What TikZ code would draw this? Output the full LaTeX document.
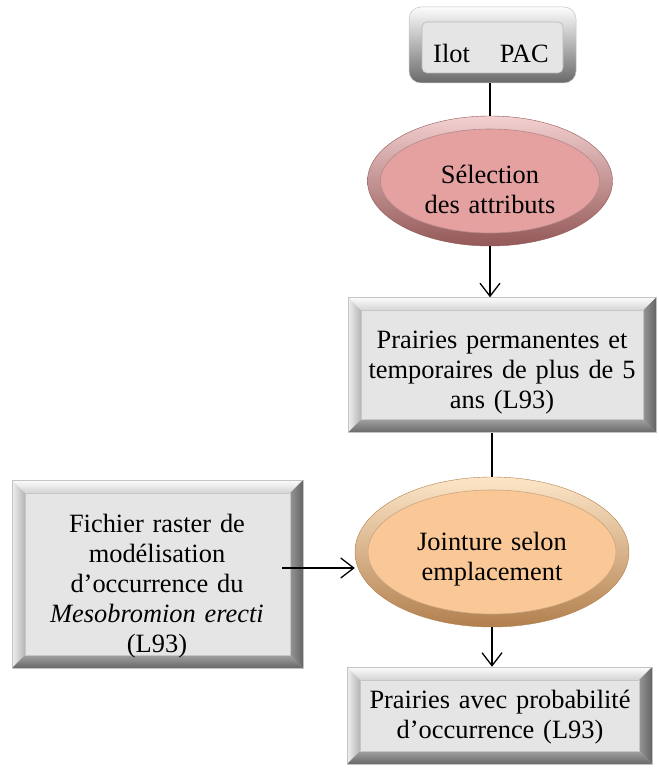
\documentclass[tikz,border=0pt]{standalone}
\usepackage{fontspec}
\setmainfont{Liberation Serif}
\usetikzlibrary{arrows.meta,calc,shapes.geometric}

% face and bevel colours of the grey boxes
\definecolor{boxface}{RGB}{229,229,229}
\definecolor{boxedge}{RGB}{196,196,196}
\definecolor{bevtopout}{RGB}{252,252,252}
\definecolor{bevtopin}{RGB}{212,212,212}
\definecolor{bevleftout}{RGB}{240,240,240}
\definecolor{bevleftin}{RGB}{180,180,180}
\definecolor{bevrightin}{RGB}{150,150,150}
\definecolor{bevrightout}{RGB}{100,100,100}
\definecolor{bevbotin}{RGB}{160,160,160}
\definecolor{bevbotout}{RGB}{105,105,105}
% oval colours
\definecolor{pinkface}{RGB}{229,160,160}
\definecolor{pinklight}{RGB}{243,208,208}
\definecolor{pinkdark}{RGB}{148,88,88}
\definecolor{peachface}{RGB}{250,200,150}
\definecolor{peachlight}{RGB}{253,230,200}
\definecolor{peachdark}{RGB}{178,128,78}

\newcommand\diagfont{\fontsize{26.4}{30}\selectfont}
\def\bevw{13pt}

\begin{document}
\begin{tikzpicture}[x=1pt, y=-1pt,
  % rectangular box with a bevelled frame
  bevelbox/.style={rectangle, draw=boxedge, line width=0.5pt, fill=boxface, inner sep=0pt,
    path picture={
      \path (path picture bounding box.north west) coordinate (bb-nw)
            (path picture bounding box.north east) coordinate (bb-ne)
            (path picture bounding box.south west) coordinate (bb-sw)
            (path picture bounding box.south east) coordinate (bb-se);
      \shade[top color=bevtopout, bottom color=bevtopin]
        (bb-nw) -- (bb-ne) -- ([shift={(-\bevw,-\bevw)}]bb-ne) -- ([shift={(\bevw,-\bevw)}]bb-nw) -- cycle;
      \shade[left color=bevleftout, right color=bevleftin]
        (bb-nw) -- ([shift={(\bevw,-\bevw)}]bb-nw) -- ([shift={(\bevw,\bevw)}]bb-sw) -- (bb-sw) -- cycle;
      \shade[left color=bevrightin, right color=bevrightout]
        (bb-ne) -- (bb-se) -- ([shift={(-\bevw,\bevw)}]bb-se) -- ([shift={(-\bevw,-\bevw)}]bb-ne) -- cycle;
      \shade[top color=bevbotin, bottom color=bevbotout]
        (bb-sw) -- ([shift={(\bevw,\bevw)}]bb-sw) -- ([shift={(-\bevw,\bevw)}]bb-se) -- (bb-se) -- cycle;
      \draw[gray!45, line width=0.5pt]
        ([shift={(\bevw,-\bevw)}]bb-nw) rectangle ([shift={(-\bevw,\bevw)}]bb-se);
    }},
  % rounded box with a soft frame
  roundbox/.style={rectangle, rounded corners=12pt, draw=boxedge, line width=0.5pt,
    top color=bevtopout, bottom color=bevbotout, middle color=bevleftin, inner sep=0pt,
    path picture={
      \fill[boxface, draw=gray!55, line width=0.6pt, rounded corners=5pt]
        ([shift={(13pt,-15pt)}]path picture bounding box.north west) rectangle
        ([shift={(-13pt,10pt)}]path picture bounding box.south east);
    }},
  % oval with a raised rim: face, light rim, dark rim
  oval/.style n args={3}{ellipse, inner sep=0pt, draw=#3, line width=0.4pt,
    top color=#2, bottom color=#3,
    path picture={
      \fill[#1, draw=#3!70, line width=0.6pt]
        let \p1=(path picture bounding box.north east),
            \p2=(path picture bounding box.center) in
        (\p2) ellipse [x radius={\x1-\x2-13pt}, y radius={\y1-\y2-13pt}];
    }},
  lbl/.style={align=center, inner sep=0pt, anchor=base, font=\diagfont, text width=300pt},
  conn/.style={line width=1.3pt, draw=black},
  arr/.style={conn, -{Straight Barb[length=13pt, width=20pt]}}
]
\path[use as bounding box, fill=white] (0,0) rectangle (658,778);

% shapes
\node[roundbox, minimum width=167pt, minimum height=76pt] (pac) at (492.5,45) {};
\node[oval={pinkface}{pinklight}{pinkdark}, minimum width=245pt, minimum height=130pt] (sel) at (490,181) {};
\node[bevelbox, minimum width=308pt, minimum height=135pt] (perm) at (502,365) {};
\node[oval={peachface}{peachlight}{peachdark}, minimum width=274pt, minimum height=150pt] (join) at (492,552) {};
\node[bevelbox, minimum width=291pt, minimum height=188pt] (rast) at (157.5,574) {};
\node[bevelbox, minimum width=305pt, minimum height=97pt] (res) at (499.5,715.5) {};

% texts
\node[lbl] (pac-t) at (491,63) {Ilot\hspace{30pt}PAC};
\node[lbl] (sel-t) at (490,183) {Sélection\\des attributs};
\node[lbl] (perm-t) at (502,348) {Prairies permanentes et\\temporaires de plus de 5\\ans (L93)};
\node[lbl] (join-t) at (492,550) {Jointure selon\\emplacement};
\node[lbl, text width=280pt] (rast-t) at (157,532) {Fichier raster de\\modélisation\\d’occurrence du\\\textit{Mesobromion erecti}\\(L93)};
\node[lbl] (res-t) at (500,708) {Prairies avec probabilité\\d’occurrence (L93)};

% connectors
\draw[conn] (sel.north |- pac.south) -- (sel.north);
\draw[arr] (sel.south) -- (sel.south |- perm.north);
\draw[conn] (perm.south -| join.north) -- (join.north);
\coordinate (rast-out) at ([shift={(-21pt,6pt)}]rast.east);
\draw[arr] (rast-out) -- (rast-out -| join.west);
\draw[arr] (join.south) -- (join.south |- res.north);
\end{tikzpicture}
\end{document}
